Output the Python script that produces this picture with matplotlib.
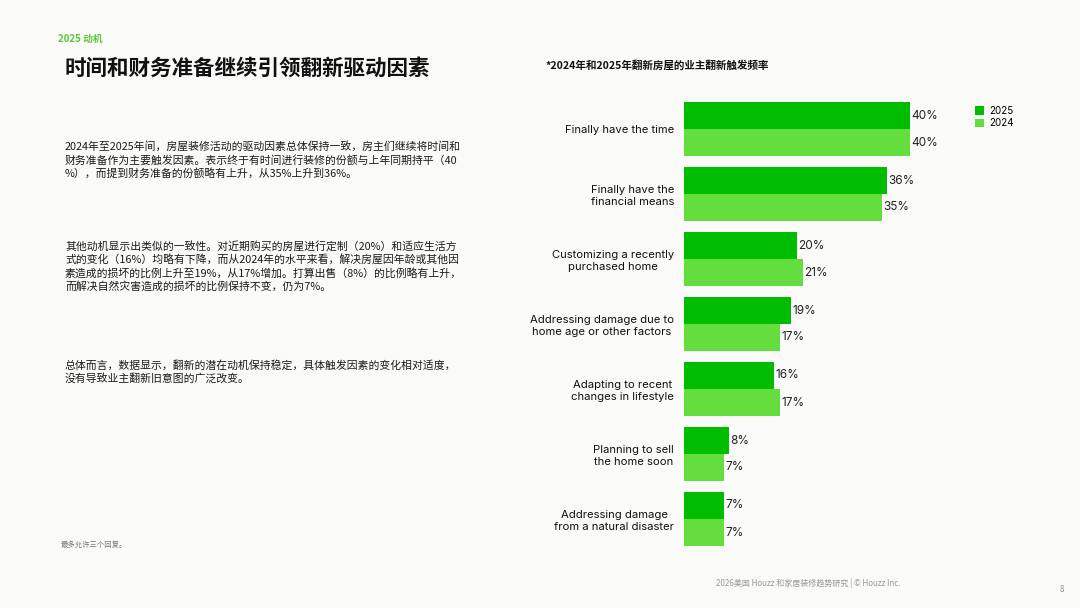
import matplotlib
matplotlib.use("Agg")
import matplotlib.pyplot as plt
import numpy as np

plt.rcParams['font.family'] = ['Noto Sans CJK SC', 'DejaVu Sans']

categories = [
    "Finally have the time",
    "Finally have the\nfinancial means",
    "Customizing a recently\npurchased home",
    "Addressing damage due to\nhome age or other factors",
    "Adapting to recent\nchanges in lifestyle",
    "Planning to sell\nthe home soon",
    "Addressing damage\nfrom a natural disaster",
]
values_2025 = [40, 36, 20, 19, 16, 8, 7]
values_2024 = [40, 35, 21, 17, 17, 7, 7]
series_names = ["2025", "2024"]

kicker = "2025 动机"
title = "时间和财务准备继续引领翻新驱动因素"
chart_title = "*2024年和2025年翻新房屋的业主翻新触发频率"
paragraphs = [
    ["2024年至2025年间，房屋装修活动的驱动因素总体保持一致，房主们继续将时间和",
     "财务准备作为主要触发因素。表示终于有时间进行装修的份额与上年同期持平（40",
     "%），而提到财务准备的份额略有上升，从35%上升到36%。"],
    ["其他动机显示出类似的一致性。对近期购买的房屋进行定制（20%）和适应生活方",
     "式的变化（16%）均略有下降，而从2024年的水平来看，解决房屋因年龄或其他因",
     "素造成的损坏的比例上升至19%，从17%增加。打算出售（8%）的比例略有上升，",
     "而解决自然灾害造成的损坏的比例保持不变，仍为7%。"],
    ["总体而言，数据显示，翻新的潜在动机保持稳定，具体触发因素的变化相对适度，",
     "没有导致业主翻新旧意图的广泛改变。"],
]
note = "最多允许三个回复。"
footer = "2026美国 Houzz 和家居装修趋势研究 | © Houzz Inc."
page = "8"

C2025 = "#00BD00"
C2024 = "#63DE3E"
BG = "#FAFAF8"

W, H = 1080, 608
fig = plt.figure(figsize=(10.8, 6.08), dpi=100, facecolor=BG)

def fx(px):
    return px / W

def fy(py):
    return 1 - py / H

# Left text
fig.text(fx(58), fy(39), kicker, fontsize=7, fontweight="bold", color="#5CC83A",
         va="center", ha="left")
fig.text(fx(65), fy(68), title, fontsize=15.5, fontweight="bold", color="#111111",
         va="center", ha="left")
para_starts = [147, 247, 365]
for start, lines in zip(para_starts, paragraphs):
    for i, line in enumerate(lines):
        fig.text(fx(65), fy(start + 13 * i), line, fontsize=7.8, color="#1a1a1a",
                 va="center", ha="left")

fig.text(fx(545), fy(65), chart_title, fontsize=7.6, fontweight="bold", color="#111111",
         va="center", ha="left")
fig.text(fx(61), fy(545), note, fontsize=5.3, color="#777777", va="center", ha="left")
fig.text(fx(716), fy(583), footer, fontsize=5.8, color="#999999", va="center", ha="left")
fig.text(fx(1062), fy(589), page, fontsize=5.8, color="#999999", va="center", ha="center")

# Chart axes
x0_px, scale = 684, 5.65
xmax = 50
ax_w = scale * xmax
top_px, bot_px = 102, 546
ax = fig.add_axes([fx(x0_px), fy(bot_px), fx(ax_w), (bot_px - top_px) / H])
ax.set_facecolor("none")

n = len(categories)
y = np.arange(n)
bh = 27 / 65
b1 = ax.barh(y - bh / 2, values_2025, height=bh, color=C2025, label=series_names[0])
b2 = ax.barh(y + bh / 2, values_2024, height=bh, color=C2024, label=series_names[1])
ax.set_xlim(0, xmax)
ax.set_ylim(n - 1 + bh, -bh)

for bars in (b1, b2):
    ax.bar_label(bars, labels=[f"{v}%" for v in bars.datavalues], padding=1,
                 fontsize=8.5, color="#222222", family=["Inter", "DejaVu Sans"])

ax.set_yticks(y)
ax.set_yticklabels(categories, family=["Inter", "DejaVu Sans"], fontsize=8.1,
                   color="#111111", linespacing=1.25)
for lbl in ax.get_yticklabels():
    lbl.set_multialignment("center")
ax.tick_params(axis="y", length=0, pad=7.2)
ax.set_xticks([])
for s in ax.spines.values():
    s.set_visible(False)

leg = ax.legend(handles=[b1, b2], loc="upper left",
                bbox_to_anchor=(fx(970), fy(101)), bbox_transform=fig.transFigure,
                frameon=False, handlelength=0.9, handleheight=0.9,
                handletextpad=0.6, labelspacing=0.25, borderpad=0,
                prop={"family": ["Inter", "DejaVu Sans"], "size": 7})

fig.savefig("out.png", dpi=100, facecolor=BG)
